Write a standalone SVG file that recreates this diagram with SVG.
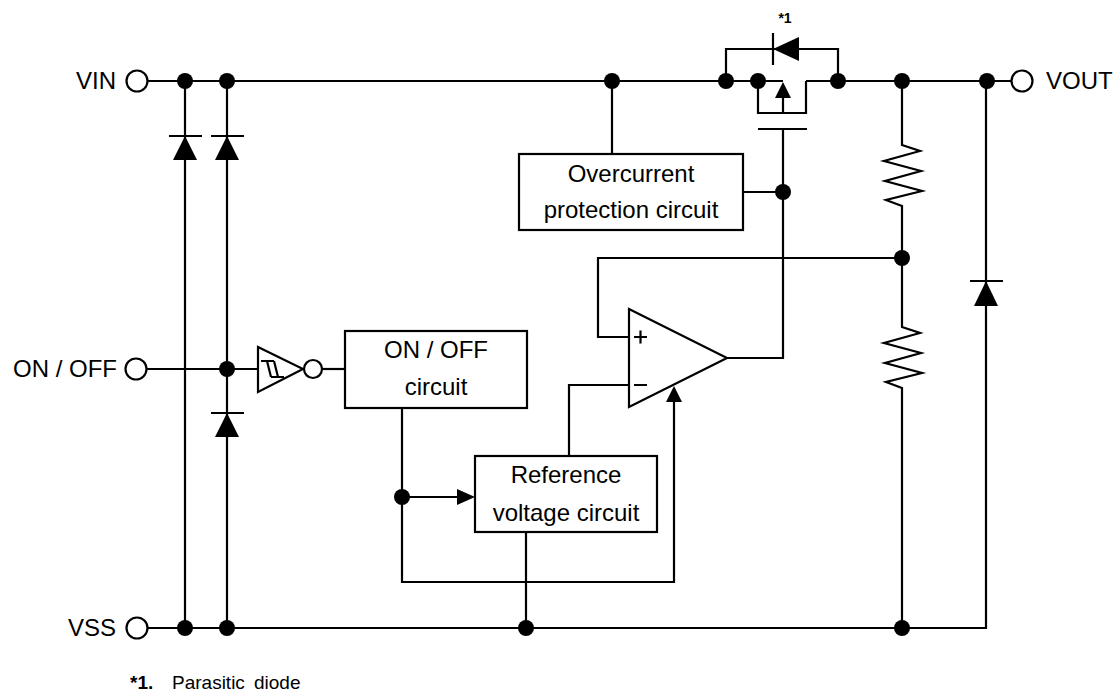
<svg xmlns="http://www.w3.org/2000/svg" width="1116" height="693" viewBox="0 0 1116 693">
<style>
.w{fill:none;stroke:#000;stroke-width:2.2;stroke-linejoin:miter}
.box{fill:#fff;stroke:#000;stroke-width:2.2}
.dot{fill:#000}
.term{fill:#fff;stroke:#000;stroke-width:2.2}
.tri{fill:#000}
.t{font-family:"Liberation Sans",Arial,sans-serif;font-size:24px;fill:#000}
.c{text-anchor:middle}
.e{text-anchor:end}
.fn{font-family:"Liberation Sans",Arial,sans-serif;font-size:19px;fill:#000}
</style>
<rect width="1116" height="693" fill="#fff"/>
<g id="connectors">
  <path class="w" d="M148,81 H783 M806,81 H1011"/>
  <path class="w" d="M148,628 H986 V81"/>
  <path class="w" d="M185,81 V628 M227,81 V628"/>
  <path class="w" d="M147,369 H258"/>
  <path class="w" d="M322,369 H345"/>
  <path class="w" d="M612,81 V154"/>
  <path class="w" d="M743,192 H783"/>
  <path class="w" d="M727,358 H783 V129"/>
  <path class="w" d="M902,258 H598 V337 H629"/>
  <path class="w" d="M629,385 H569 V456"/>
  <path class="w" d="M402,408 V582 H674 V400"/>
  <path class="w" d="M402,497 H460"/>
  <path class="w" d="M526,532 V628"/>
  <path class="w" d="M902,81 V145 L920,151 L884,161 L921,171 L885,181 L922,191 L886,200 L902,206 V327 L920,333 L884,343 L921,353 L885,363 L922,373 L886,382 L902,388 V628"/>
  <polygon class="tri" points="475,497 457,489 457,505"/>
  <polygon class="tri" points="674,386 666,402 682,402"/>
</g>
<g id="diode-vin-vss-1">
  <line class="w" x1="169" y1="136" x2="202" y2="136"/>
  <polygon class="tri" points="185,136 173,160 197,160"/>
</g>
<g id="diode-vin-onoff">
  <line class="w" x1="211" y1="136" x2="244" y2="136"/>
  <polygon class="tri" points="227,136 215,160 239,160"/>
</g>
<g id="diode-onoff-vss">
  <line class="w" x1="211" y1="413" x2="244" y2="413"/>
  <polygon class="tri" points="227,413 215,437 239,437"/>
</g>
<g id="diode-vout-vss">
  <line class="w" x1="970" y1="281" x2="1003" y2="281"/>
  <polygon class="tri" points="986,281 974,306 998,306"/>
</g>
<g id="pmos">
  <path class="w" d="M758,81 V113 H806 V81"/>
  <line class="w" x1="783" y1="113" x2="783" y2="96"/>
  <polygon class="tri" points="783,82 775,98 791,98"/>
  <line class="w" x1="758" y1="129" x2="807" y2="129"/>
</g>
<g id="parasitic-diode">
  <path class="w" d="M726,81 V49 H838 V81"/>
  <line class="w" x1="773" y1="33" x2="773" y2="65"/>
  <polygon class="tri" points="773,49 799,37 799,61"/>
  <text x="785" y="23" font-family="Liberation Sans,Arial,sans-serif" font-size="14" font-weight="bold" text-anchor="middle">*1</text>
</g>
<g id="inverter">
  <polygon class="box" points="258,347 303,369 258,392"/>
  <path class="w" d="M261,361 H274 M267,361 L271,377 M274,361 L278,377 M271,377 H284" stroke-width="1.8"/>
  <circle class="term" cx="313" cy="369" r="9"/>
</g>
<g id="opamp">
  <polygon class="box" points="629,309 727,358 629,407"/>
  <path class="w" d="M634,337 H647 M640.5,330.5 V343.5 M634,385 H647" stroke-width="1.6"/>
</g>
<g id="overcurrent">
  <rect class="box" x="519" y="154" width="224" height="76"/>
  <text class="t c" x="631" y="182">Overcurrent</text>
  <text class="t c" x="631" y="218">protection circuit</text>
</g>
<g id="onoff-circuit">
  <rect class="box" x="345" y="331" width="182" height="77"/>
  <text class="t c" x="436" y="358">ON / OFF</text>
  <text class="t c" x="436" y="395">circuit</text>
</g>
<g id="reference">
  <rect class="box" x="475" y="456" width="182" height="76"/>
  <text class="t c" x="566" y="483">Reference</text>
  <text class="t c" x="566" y="521">voltage circuit</text>
</g>
<g id="dots">
  <circle class="dot" cx="185" cy="81" r="8"/>
  <circle class="dot" cx="227" cy="81" r="8"/>
  <circle class="dot" cx="612" cy="81" r="8"/>
  <circle class="dot" cx="726" cy="81" r="8"/>
  <circle class="dot" cx="758" cy="81" r="8"/>
  <circle class="dot" cx="838" cy="81" r="8"/>
  <circle class="dot" cx="902" cy="81" r="8"/>
  <circle class="dot" cx="987" cy="81" r="8"/>
  <circle class="dot" cx="783" cy="192" r="8"/>
  <circle class="dot" cx="902" cy="258" r="8"/>
  <circle class="dot" cx="227" cy="369" r="8"/>
  <circle class="dot" cx="402" cy="497" r="8"/>
  <circle class="dot" cx="185" cy="628" r="8"/>
  <circle class="dot" cx="227" cy="628" r="8"/>
  <circle class="dot" cx="526" cy="628" r="8"/>
  <circle class="dot" cx="902" cy="628" r="8"/>
</g>
<g id="terminal-vin">
  <circle class="term" cx="137" cy="81" r="10.5"/>
  <text class="t e" x="116" y="89">VIN</text>
</g>
<g id="terminal-onoff">
  <circle class="term" cx="136" cy="369" r="10.5"/>
  <text class="t e" x="117" y="377">ON / OFF</text>
</g>
<g id="terminal-vss">
  <circle class="term" cx="137" cy="628" r="10.5"/>
  <text class="t e" x="116" y="636">VSS</text>
</g>
<g id="terminal-vout">
  <circle class="term" cx="1022" cy="81" r="10.5"/>
  <text class="t" x="1046" y="89">VOUT</text>
</g>
<g id="footnote">
  <text class="fn" x="130" y="689" font-weight="bold">*1.</text>
  <text class="fn" x="172" y="689">Parasitic</text>
  <text class="fn" x="254" y="689">diode</text>
</g>
</svg>
